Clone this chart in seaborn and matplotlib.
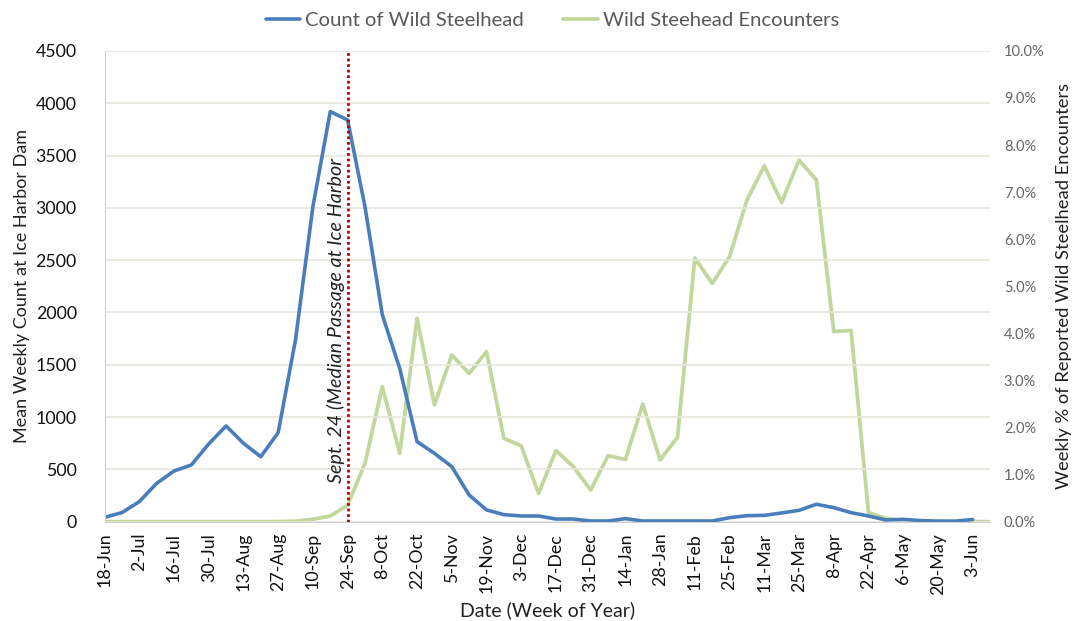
import numpy as np
import pandas as pd
import seaborn as sns
import matplotlib.pyplot as plt
from matplotlib.lines import Line2D
from matplotlib.ticker import FuncFormatter

# weekly data, week 0 = 18-Jun
weeks = list(range(52))
count_wild = [41, 86, 191, 366, 484, 542, 743, 915, 749, 621,
              851, 1740, 3011, 3920, 3840, 3011, 1976, 1466, 765, 653,
              526, 255, 112, 67, 54, 54, 25, 25, 6, 6,
              29, 6, 6, 6, 6, 6, 38, 57, 60, 83,
              108, 166, 134, 86, 54, 16, 22, 10, 5, 5,
              20, np.nan]
encounters_pct = [0, 0, 0, 0, 0, 0, 0, 0, 0, 0,
                  0, 0.01, 0.05, 0.12, 0.35, 1.24, 2.87, 1.45, 4.32, 2.48,
                  3.54, 3.15, 3.61, 1.77, 1.61, 0.60, 1.51, 1.17, 0.67, 1.40,
                  1.32, 2.50, 1.31, 1.79, 5.60, 5.06, 5.63, 6.83, 7.56, 6.78,
                  7.68, 7.26, 4.04, 4.06, 0.19, 0.07, 0.02, 0, 0, 0,
                  0, 0]
tick_labels = ["18-Jun", "2-Jul", "16-Jul", "30-Jul", "13-Aug", "27-Aug", "10-Sep",
               "24-Sep", "8-Oct", "22-Oct", "5-Nov", "19-Nov", "3-Dec", "17-Dec",
               "31-Dec", "14-Jan", "28-Jan", "11-Feb", "25-Feb", "11-Mar", "25-Mar",
               "8-Apr", "22-Apr", "6-May", "20-May", "3-Jun"]
median_week = 14

df = pd.DataFrame({"week": weeks, "count": count_wild, "pct": encounters_pct})

sns.set_style("white")
plt.rcParams["font.family"] = ["Lato", "DejaVu Sans"]

blue = "#4A7EBB"
green = "#C3D69B"
grid_c = "#E6E6DE"

fig = plt.figure(figsize=(10.79, 6.21), dpi=100)
ax = fig.add_axes([0.0969, 0.160, 0.8206, 0.758])
ax2 = ax.twinx()

sns.lineplot(data=df, x="week", y="pct", ax=ax2, color=green, lw=2.7)
sns.lineplot(data=df, x="week", y="count", ax=ax, color=blue, lw=2.6)

# blue on top of green
ax.set_zorder(ax2.get_zorder() + 1)
ax.patch.set_visible(False)

ax.set_xlim(0, 51)
ax.set_ylim(0, 4500)
ax2.set_ylim(0, 10)
ax.set_yticks(range(0, 4501, 500))
ax2.set_yticks(range(0, 11))
ax2.yaxis.set_major_formatter(FuncFormatter(lambda v, p: f"{v:.1f}%"))

ax.set_xticks(range(0, 52, 2))
ax.set_xticklabels(tick_labels, rotation=90, fontsize=12.8)
ax.tick_params(axis="x", direction="out", length=5, color="#BFBFBF", width=1, pad=3,
               labelcolor="#111111")
ax.tick_params(axis="y", length=0, labelsize=12.8, pad=20, labelcolor="#111111")
ax2.tick_params(axis="y", length=0, labelsize=10.5, pad=10, labelcolor="#666666")

ax.yaxis.grid(True, color=grid_c, lw=1.2)
ax.set_axisbelow(True)
for s in ["top", "right"]:
    ax.spines[s].set_visible(False)
for s in ["top", "right", "left", "bottom"]:
    ax2.spines[s].set_visible(False)
ax.spines["left"].set_color("#D0D0D0")
ax.spines["bottom"].set_color("#D0D0D0")

ax.set_xlabel("Date (Week of Year)", fontsize=14, labelpad=5, color="#222222")
ax.set_ylabel("Mean Weekly Count at Ice Harbor Dam", fontsize=13, labelpad=4,
              color="#222222")
ax2.set_ylabel("Weekly % of Reported Wild Steelhead Encounters", fontsize=13.2,
               labelpad=8, color="#222222")

ax.axvline(median_week, color="#C00000", ls=(0, (1, 1)), lw=2, zorder=5)
ax.text(median_week - 0.65, 370, "Sept. 24 (Median Passage at Ice Harbor",
        rotation=90, ha="center", va="bottom", fontsize=14.2, style="italic",
        color="#222222")

handles = [Line2D([], [], color=blue, lw=2.6), Line2D([], [], color=green, lw=2.7)]
fig.legend(handles, ["Count of Wild Steelhead", "Wild Steehead Encounters"],
           loc="center", bbox_to_anchor=(0.512, 0.967), ncol=2, frameon=False,
           fontsize=14.6, handlelength=1.7, handletextpad=0.25, columnspacing=1.95,
           labelcolor="#595959")

fig.savefig("out.png", dpi=100)
